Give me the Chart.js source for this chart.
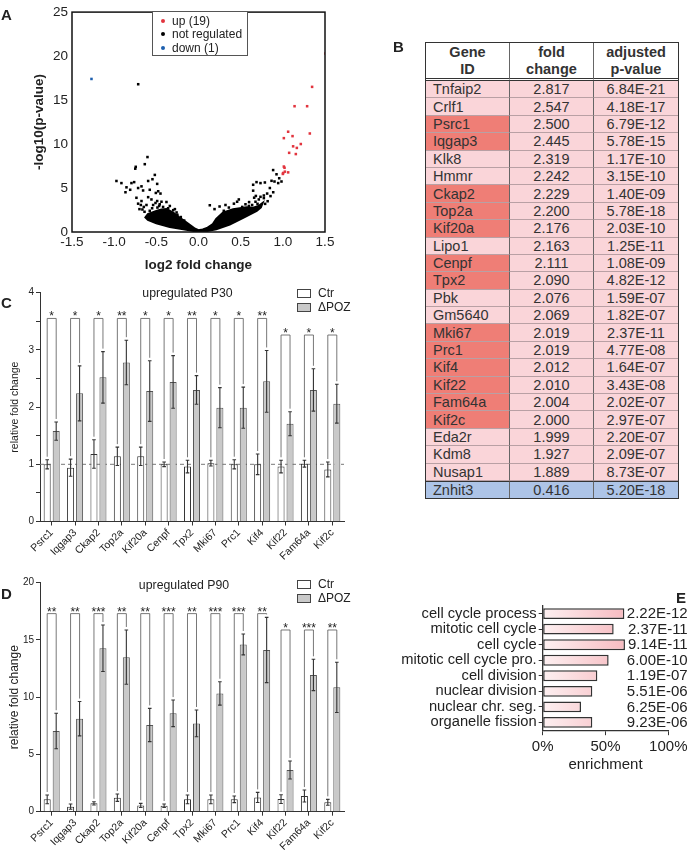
<!DOCTYPE html>
<html>
<head>
<meta charset="utf-8">
<script src="https://cdn.jsdelivr.net/npm/chart.js@4.4.1/dist/chart.umd.min.js"></script>
<style>
body { margin:0; background:#fff; font-family:"Liberation Sans", Arial, sans-serif; color:#222; }
#page { position:relative; width:693px; height:853px; overflow:hidden; }
canvas { position:absolute; }
.plab { position:absolute; font-weight:bold; font-size:15px; line-height:16px; }
.ovl { position:absolute; font-size:12px; line-height:14px; white-space:nowrap; }
.sw { position:absolute; width:12px; height:7px; border:1px solid #444; }
#legA { position:absolute; left:152px; top:11px; width:94px; height:43px; border:1px solid #555; background:#fff; font-size:12px; }
#legA div { position:absolute; left:19px; line-height:14px; }
#legA span { position:absolute; left:-11px; top:5px; width:4px; height:4px; border-radius:2px; }
#tblB { position:absolute; left:425px; top:42px; width:254px; border-collapse:separate; border-spacing:0; table-layout:fixed;
        font-size:14.5px; color:#333; border:1.5px solid #333; }
#tblB th { height:35px; padding:0; line-height:17px; font-weight:bold; background:#fff; border-bottom:3px double #333; border-right:1px solid #666; }
#tblB td { height:16.4px; padding:0; line-height:16px; text-align:center; background:#fad5d9; border-bottom:1px solid #b9a0a4; border-right:1px solid #666; }
#tblB th:last-child, #tblB td:last-child { border-right:none; }
#tblB td.g { text-align:left; padding-left:7px; }
#tblB td.hi { background:#ef7e76; }
#tblB tr.down td { background:#adc4e7; border-top:1.5px solid #333; border-bottom:none; }
</style>
</head>
<body>
<div id="page">
  <canvas id="chartA" width="340" height="275" style="left:0;top:0"></canvas>
  <canvas id="chartC" width="350" height="285" style="left:0;top:280px"></canvas>
  <canvas id="chartD" width="350" height="283" style="left:0;top:570px"></canvas>
  <canvas id="chartE" width="338" height="185" style="left:355px;top:595px"></canvas>
  <table id="tblB"></table>
  <div id="legA"></div>
  <div class="plab" style="left:1px;top:7px">A</div>
  <div class="plab" style="left:393px;top:39px">B</div>
  <div class="plab" style="left:1px;top:295px">C</div>
  <div class="plab" style="left:1px;top:586px">D</div>
  <div class="plab" style="left:676px;top:590px">E</div>
</div>
<script>
// ---- A: volcano plot ----
var upX = [1.506, 1.347, 1.139, 1.288, 1.32, 1.063, 1.012, 1.115, 1.122, 1.166, 1.213, 1.075, 1.154, 1.012, 1.02, 1.004, 1.024, 1.063, 1.0];
var upY = [20.3, 16.5, 14.3, 14.3, 11.2, 11.4, 10.67, 10.9, 9.74, 9.56, 10.0, 9.0, 8.86, 7.44, 7.3, 6.71, 6.86, 6.78, 6.6];
var downX = [-1.269];
var downY = [17.4];
var nsX = [-0.715, -0.605, -0.637, -0.744, -0.75, -0.518, -0.546, -0.597, -0.973, -0.914, -0.795, -0.763, -0.676, -0.49,
  -0.854, -0.716, -0.81, -0.866, -0.657, -0.578, -0.506, -0.451, -0.478, -0.736, -0.597, -0.558, -0.49, -0.439, -0.38,
  -0.716, -0.684, -0.649, -0.617, -0.538, -0.467, -0.42, -0.34, -0.3, -0.665, -0.578, -0.487, -0.26, -0.676, -0.42,
  -0.55, -0.51, -0.46, -0.64, -0.7, -0.36, -0.28, -0.25, -0.21, -0.17,
  0.885, 0.925, 0.957, 0.984, 0.648, 0.688, 0.735, 0.787, 0.648, 0.866, 0.901, 0.945, 0.846, 0.886, 0.814, 0.775,
  0.735, 0.854, 0.715, 0.676, 0.636, 0.597, 0.478, 0.458, 0.42, 0.32, 0.36, 0.518, 0.557, 0.3, 0.775, 0.134, 0.19,
  0.25, 0.82, 0.79, 0.7, 0.6, 0.66, 0.68];
var nsY = [16.8, 8.52, 7.71, 7.41, 7.2, 6.49, 6.0, 5.8, 5.8, 5.56, 5.56, 5.67, 5.19, 5.47,
  5.08, 5.0, 4.8, 4.52, 4.72, 4.8, 4.44, 4.37, 4.63, 3.89, 3.96, 3.7, 3.52, 3.44, 3.41,
  3.22, 3.07, 2.85, 3.07, 3.07, 2.96, 2.85, 2.96, 2.48, 2.56, 2.41, 2.78, 2.22, 3.52, 2.33,
  2.7, 3.3, 3.15, 2.3, 2.6, 2.7, 2.6, 1.95, 1.7, 1.3,
  7.04, 6.56, 6.11, 5.74, 5.37, 5.67, 5.56, 5.63, 4.7, 5.82, 5.74, 5.56, 5.0, 4.52, 4.37, 4.15,
  4.0, 4.08, 3.7, 3.44, 3.07, 2.96, 3.7, 3.44, 3.22, 3.07, 2.78, 2.85, 3.15, 2.41, 3.85, 3.04, 2.6,
  2.9, 3.5, 3.2, 3.2, 3.4, 3.9, 4.1];
// outline of the solid dense cloud of non-regulated genes
var cloudX = [0, -0.18, -0.34, -0.5, -0.6, -0.63, -0.6, -0.5, -0.44, -0.38, -0.3, -0.22, -0.12, -0.04, 0, 0.05, 0.1,
  0.17, 0.21, 0.29, 0.41, 0.57, 0.65, 0.72, 0.76, 0.74, 0.69, 0.53, 0.37, 0.21, 0.09, 0];
var cloudY = [0.02, 0.3, 0.56, 1.0, 1.37, 1.65, 2.05, 2.4, 2.55, 2.6, 2.2, 1.6, 0.93, 0.37, 0.2, 0.3, 0.45,
  0.9, 1.48, 2.2, 2.6, 2.8, 2.75, 3.0, 3.3, 2.8, 2.4, 1.6, 0.85, 0.3, 0.08, 0.02];
var volcanoLegend = ['up (19)', 'not regulated', 'down (1)'];

// ---- B: table ----
var tableGenes = ['Tnfaip2', 'Crlf1', 'Psrc1', 'Iqgap3', 'Klk8', 'Hmmr', 'Ckap2', 'Top2a', 'Kif20a', 'Lipo1', 'Cenpf', 'Tpx2',
  'Pbk', 'Gm5640', 'Mki67', 'Prc1', 'Kif4', 'Kif22', 'Fam64a', 'Kif2c', 'Eda2r', 'Kdm8', 'Nusap1'];
var tableFold = ['2.817', '2.547', '2.500', '2.445', '2.319', '2.242', '2.229', '2.200', '2.176', '2.163', '2.111', '2.090',
  '2.076', '2.069', '2.019', '2.019', '2.012', '2.010', '2.004', '2.000', '1.999', '1.927', '1.889'];
var tablePval = ['6.84E-21', '4.18E-17', '6.79E-12', '5.78E-15', '1.17E-10', '3.15E-10', '1.40E-09', '5.78E-18', '2.03E-10',
  '1.25E-11', '1.08E-09', '4.82E-12', '1.59E-07', '1.82E-07', '2.37E-11', '4.77E-08', '1.64E-07', '3.43E-08', '2.02E-07',
  '2.97E-07', '2.20E-07', '2.09E-07', '8.73E-07'];
var downGene = ['Znhit3', '0.416', '5.20E-18'];

// ---- C / D: qPCR ----
var genes = ['Psrc1', 'Iqgap3', 'Ckap2', 'Top2a', 'Kif20a', 'Cenpf', 'Tpx2', 'Mki67', 'Prc1', 'Kif4', 'Kif22', 'Fam64a', 'Kif2c'];
var seriesNames = ['Ctr', '\u0394POZ'];
var p30Ctr = [1.00, 0.94, 1.18, 1.14, 1.14, 1.00, 0.96, 1.02, 1.00, 1.00, 0.96, 1.01, 0.91];
var p30CtrErr = [0.08, 0.15, 0.25, 0.16, 0.16, 0.04, 0.11, 0.05, 0.08, 0.18, 0.11, 0.06, 0.13];
var p30Poz = [1.58, 2.24, 2.52, 2.78, 2.28, 2.44, 2.30, 1.99, 1.99, 2.45, 1.71, 2.30, 2.06];
var p30PozErr = [0.16, 0.48, 0.45, 0.39, 0.53, 0.46, 0.25, 0.35, 0.36, 0.54, 0.21, 0.37, 0.34];
var p30Bracket = [3.55, 3.55, 3.55, 3.55, 3.55, 3.55, 3.55, 3.55, 3.55, 3.55, 3.26, 3.26, 3.26];
var p30Stars = ['*', '*', '*', '**', '*', '*', '**', '*', '*', '**', '*', '*', '*'];
var p90Ctr = [1.08, 0.44, 0.73, 1.22, 0.55, 0.52, 1.08, 1.08, 1.08, 1.25, 1.10, 1.37, 0.82];
var p90CtrErr = [0.38, 0.23, 0.14, 0.32, 0.18, 0.15, 0.38, 0.38, 0.29, 0.44, 0.38, 0.52, 0.26];
var p90Poz = [7.05, 8.12, 14.27, 13.50, 7.57, 8.59, 7.71, 10.33, 14.61, 14.12, 3.64, 11.94, 10.86];
var p90PozErr = [1.55, 1.50, 2.03, 2.37, 1.45, 1.16, 1.17, 1.02, 0.91, 2.85, 0.79, 1.37, 2.19];
var p90Bracket = [17.3, 17.3, 17.3, 17.3, 17.3, 17.3, 17.3, 17.3, 17.3, 17.3, 15.87, 15.87, 15.87];
var p90Stars = ['**', '**', '***', '**', '**', '***', '**', '***', '***', '**', '*', '***', '**'];

// ---- E: GO enrichment ----
var goTerms = ['cell cycle process', 'mitotic cell cycle', 'cell cycle', 'mitotic cell cycle pro.', 'cell division',
  'nuclear division', 'nuclear chr. seg.', 'organelle fission'];
var goEnrichment = [65, 56.5, 65.5, 52.5, 43.5, 39.5, 30.5, 39.5];
var goPValues = ['2.22E-12', '2.37E-11', '9.14E-11', '6.00E-10', '1.19E-07', '5.51E-06', '6.25E-06', '9.23E-06'];

Chart.defaults.font.family = '"Liberation Sans", Arial, sans-serif';
Chart.defaults.color = '#222';
Chart.defaults.animation = false;
Chart.defaults.plugins.legend.display = false;
Chart.defaults.plugins.tooltip.enabled = false;

function pts(xs, ys) {
	return xs.map(function(x, i) { return { x: x, y: ys[i] }; });
}

var frameBox = {
	id: 'frameBox',
	afterDraw: function(chart) {
		var a = chart.chartArea, ctx = chart.ctx;
		ctx.save();
		ctx.strokeStyle = '#111';
		ctx.lineWidth = 1.5;
		ctx.strokeRect(a.left, a.top, a.right - a.left, a.bottom - a.top);
		ctx.restore();
	}
};

new Chart(document.getElementById('chartA'), {
	type : 'scatter',
	data : {
		datasets : [ {
			type : 'line',
			data : pts(cloudX, cloudY),
			fill : 'shape',
			backgroundColor : '#000',
			borderColor : '#000',
			borderWidth : 2,
			pointRadius : 0,
			tension : 0,
			order : 3
		}, {
			data : pts(nsX, nsY),
			backgroundColor : '#000',
			pointStyle : 'rect',
			pointRadius : 1.8,
			borderWidth : 0
		}, {
			data : pts(upX, upY),
			backgroundColor : '#e2343e',
			pointStyle : 'rect',
			pointRadius : 1.8,
			borderWidth : 0
		}, {
			data : pts(downX, downY),
			backgroundColor : '#1d5fae',
			pointStyle : 'rect',
			pointRadius : 1.8,
			borderWidth : 0
		} ]
	},
	options : {
		responsive : false,
		layout : { padding : { left : 0, top : 5, right : 15, bottom : 0 } },
		scales : {
			x : {
				min : -1.5, max : 1.5,
				grid : { display : false, drawTicks : false },
				border : { display : false },
				ticks : { stepSize : 0.5, padding : 2, font : { size : 13.5 }, color : '#222',
					callback : function(v) { return v.toFixed(1); } },
				title : { display : true, text : 'log2 fold change', font : { size : 13.5, weight : 'bold' },
					color : '#222', padding : { top : 0, bottom : 2 } },
				afterFit : function(s) { s.height = 43; }
			},
			y : {
				min : 0, max : 25,
				grid : { display : false, drawTicks : false },
				border : { display : false },
				ticks : { stepSize : 5, padding : 4, font : { size : 13.5 }, color : '#222' },
				title : { display : true, text : '-log10(p-value)', font : { size : 13.5, weight : 'bold' },
					color : '#222', padding : { top : 31, bottom : 0 } },
				afterFit : function(s) { s.width = 72; }
			}
		}
	},
	plugins : [ frameBox ]
});

// legend of A
var legColors = ['#e2343e', '#000', '#1d5fae'];
document.getElementById('legA').innerHTML = volcanoLegend.map(function(t, i) {
	return '<div style="top:' + (2 + i * 13.3) + 'px"><span style="background:' + legColors[i] + '"></span>' + t + '</div>';
}).join('');

// table B
var html = '<tr><th>Gene<br>ID</th><th>fold<br>change</th><th>adjusted<br>p-value</th></tr>';
tableGenes.forEach(function(g, i) {
	var hi = genes.indexOf(g) >= 0 ? ' hi' : '';
	html += '<tr><td class="g' + hi + '">' + g + '</td><td>' + tableFold[i] + '</td><td>' + tablePval[i] + '</td></tr>';
});
html += '<tr class="down"><td class="g">' + downGene[0] + '</td><td>' + downGene[1] + '</td><td>' + downGene[2] + '</td></tr>';
document.getElementById('tblB').innerHTML = html;

// error bars, significance brackets and reference line
var errBrackets = {
	id : 'errBrackets',
	beforeDatasetsDraw : function(chart, args, o) {
		if (o.refLine == null) return;
		var ctx = chart.ctx, a = chart.chartArea, py = chart.scales.y.getPixelForValue(o.refLine);
		ctx.save();
		ctx.setLineDash([4, 3]);
		ctx.strokeStyle = '#777';
		ctx.lineWidth = 1;
		ctx.beginPath();
		ctx.moveTo(a.left, py);
		ctx.lineTo(a.right, py);
		ctx.stroke();
		ctx.restore();
	},
	afterDatasetsDraw : function(chart, args, o) {
		var ctx = chart.ctx, y = chart.scales.y;
		ctx.save();
		[0, 1].forEach(function(di) {
			var meta = chart.getDatasetMeta(di), vals = chart.data.datasets[di].data, errs = o.errors[di];
			ctx.strokeStyle = '#333';
			ctx.lineWidth = 1.1;
			meta.data.forEach(function(bar, i) {
				var top = y.getPixelForValue(vals[i] + errs[i]);
				var bot = y.getPixelForValue(vals[i] - errs[i]);
				ctx.beginPath();
				ctx.moveTo(bar.x, top); ctx.lineTo(bar.x, bot);
				ctx.moveTo(bar.x - 1.8, top); ctx.lineTo(bar.x + 1.8, top);
				ctx.moveTo(bar.x - 1.8, bot); ctx.lineTo(bar.x + 1.8, bot);
				ctx.stroke();
			});
		});
		var m0 = chart.getDatasetMeta(0).data, m1 = chart.getDatasetMeta(1).data;
		var d0 = chart.data.datasets[0].data, d1 = chart.data.datasets[1].data;
		ctx.strokeStyle = '#555';
		ctx.lineWidth = 0.8;
		ctx.fillStyle = '#222';
		ctx.font = '12px "Liberation Sans", Arial, sans-serif';
		ctx.textAlign = 'center';
		o.brackets.forEach(function(b, i) {
			var by = y.getPixelForValue(b), l = m0[i].x, r = m1[i].x;
			var lEnd = y.getPixelForValue(d0[i] + o.errors[0][i]) - 3;
			var rEnd = y.getPixelForValue(d1[i] + o.errors[1][i]) - 3;
			ctx.beginPath();
			ctx.moveTo(l, lEnd); ctx.lineTo(l, by); ctx.lineTo(r, by); ctx.lineTo(r, rEnd);
			ctx.stroke();
			ctx.fillText(o.stars[i], (l + r) / 2, by + 2);
		});
		ctx.restore();
	}
};

function barPanel(id, ctr, ctrErr, poz, pozErr, brackets, stars, yMax, yStep, labelStep, titleSize, titlePad, xHeight, refLine) {
	return new Chart(document.getElementById(id), {
		type : 'bar',
		data : {
			labels : genes,
			datasets : [ {
				label : seriesNames[0], data : ctr,
				backgroundColor : '#fff', borderColor : '#333', borderWidth : 1,
				categoryPercentage : 0.77, barPercentage : 0.78
			}, {
				label : seriesNames[1], data : poz,
				backgroundColor : '#c9c9c9', borderColor : '#555', borderWidth : 1,
				categoryPercentage : 0.77, barPercentage : 0.78
			} ]
		},
		options : {
			responsive : false,
			layout : { padding : { left : 0, top : 12.7, right : 6, bottom : 0 } },
			scales : {
				x : {
					grid : { drawOnChartArea : false, offset : false, tickLength : 4, color : '#333' },
					border : { color : '#333', width : 1 },
					ticks : { autoSkip : false, minRotation : 45, maxRotation : 45, padding : 1,
						font : { size : 10.5 }, color : '#222' },
					afterFit : function(s) { s.height = xHeight; }
				},
				y : {
					min : 0, max : yMax,
					grid : { drawOnChartArea : false, tickLength : 4, color : '#333' },
					border : { color : '#333', width : 1 },
					ticks : { stepSize : yStep, padding : 2, font : { size : 10 }, color : '#222',
						callback : function(v) { return v % labelStep === 0 ? v : ''; } },
					title : { display : true, text : 'relative fold change', font : { size : titleSize },
						color : '#222', padding : { top : titlePad, bottom : 0 } },
					afterFit : function(s) { s.width = 40; }
				}
			},
			plugins : {
				errBrackets : { errors : [ ctrErr, pozErr ], brackets : brackets, stars : stars, refLine : refLine }
			}
		},
		plugins : [ errBrackets ]
	});
}

barPanel('chartC', p30Ctr, p30CtrErr, p30Poz, p30PozErr, p30Bracket, p30Stars, 4, 0.5, 1, 10.5, 8.7, 43.5, 1);
barPanel('chartD', p90Ctr, p90CtrErr, p90Poz, p90PozErr, p90Bracket, p90Stars, 20, 5, 5, 12, 7.8, 41.3, null);

// titles and legends of C and D
function overlay(title, tx, ty, ly) {
	var page = document.getElementById('page');
	var t = document.createElement('div');
	t.className = 'ovl';
	t.style.cssText = 'left:' + (tx - 60) + 'px;top:' + (ty - 7) + 'px;width:120px;text-align:center;font-size:12.3px';
	t.textContent = title;
	page.appendChild(t);
	seriesNames.forEach(function(n, i) {
		var sw = document.createElement('div');
		sw.className = 'sw';
		sw.style.cssText = 'left:297px;top:' + (ly + i * 14.3 - 4) + 'px;background:' + (i ? '#c9c9c9' : '#fff');
		page.appendChild(sw);
		var lb = document.createElement('div');
		lb.className = 'ovl';
		lb.style.cssText = 'left:318px;top:' + (ly + i * 14.3 - 7) + 'px';
		lb.textContent = n;
		page.appendChild(lb);
	});
}
overlay('upregulated P30', 187.5, 293.3, 293);
overlay('upregulated P90', 184, 585, 584);

// E: enrichment bars with p-values
var pvalLabels = {
	id : 'pvalLabels',
	afterDatasetsDraw : function(chart, args, o) {
		var ctx = chart.ctx, meta = chart.getDatasetMeta(0);
		ctx.save();
		ctx.fillStyle = '#222';
		ctx.font = '15px "Liberation Sans", Arial, sans-serif';
		ctx.textAlign = 'right';
		ctx.textBaseline = 'middle';
		meta.data.forEach(function(bar, i) { ctx.fillText(o.labels[i], o.right, bar.y + 0.5); });
		ctx.restore();
	}
};

new Chart(document.getElementById('chartE'), {
	type : 'bar',
	data : {
		labels : goTerms,
		datasets : [ {
			data : goEnrichment,
			backgroundColor : function(c) {
				var a = c.chart.chartArea;
				if (!a) return '#f8c8cc';
				var g = c.chart.ctx.createLinearGradient(a.left, 0, a.right, 0);
				g.addColorStop(0, '#fdf0f1');
				g.addColorStop(1, '#f39fa7');
				return g;
			},
			borderColor : '#333', borderWidth : 1.5, borderSkipped : false,
			categoryPercentage : 1, barPercentage : 0.7
		} ]
	},
	options : {
		indexAxis : 'y',
		responsive : false,
		layout : { padding : { left : 0, top : 8.8, right : 24.7, bottom : 0 } },
		scales : {
			x : {
				min : 0, max : 100,
				grid : { drawOnChartArea : false, tickLength : 5, color : '#333' },
				border : { color : '#333', width : 1.3 },
				ticks : { stepSize : 50, padding : 3, font : { size : 15 }, color : '#222',
					callback : function(v) { return v + '%'; } },
				title : { display : true, text : 'enrichment', font : { size : 15 }, color : '#222',
					padding : { top : 0, bottom : 6 } },
				afterFit : function(s) { s.height = 49.8; }
			},
			y : {
				grid : { drawOnChartArea : false, offset : false, tickLength : 4, color : '#333' },
				border : { color : '#333', width : 1.3 },
				ticks : { autoSkip : false, padding : 2, font : { size : 14.7 }, color : '#222' },
				afterFit : function(s) { s.width = 187.7; }
			}
		},
		plugins : { pvalLabels : { labels : goPValues, right : 332.7 } }
	},
	plugins : [ pvalLabels ]
});
</script>
</body>
</html>
